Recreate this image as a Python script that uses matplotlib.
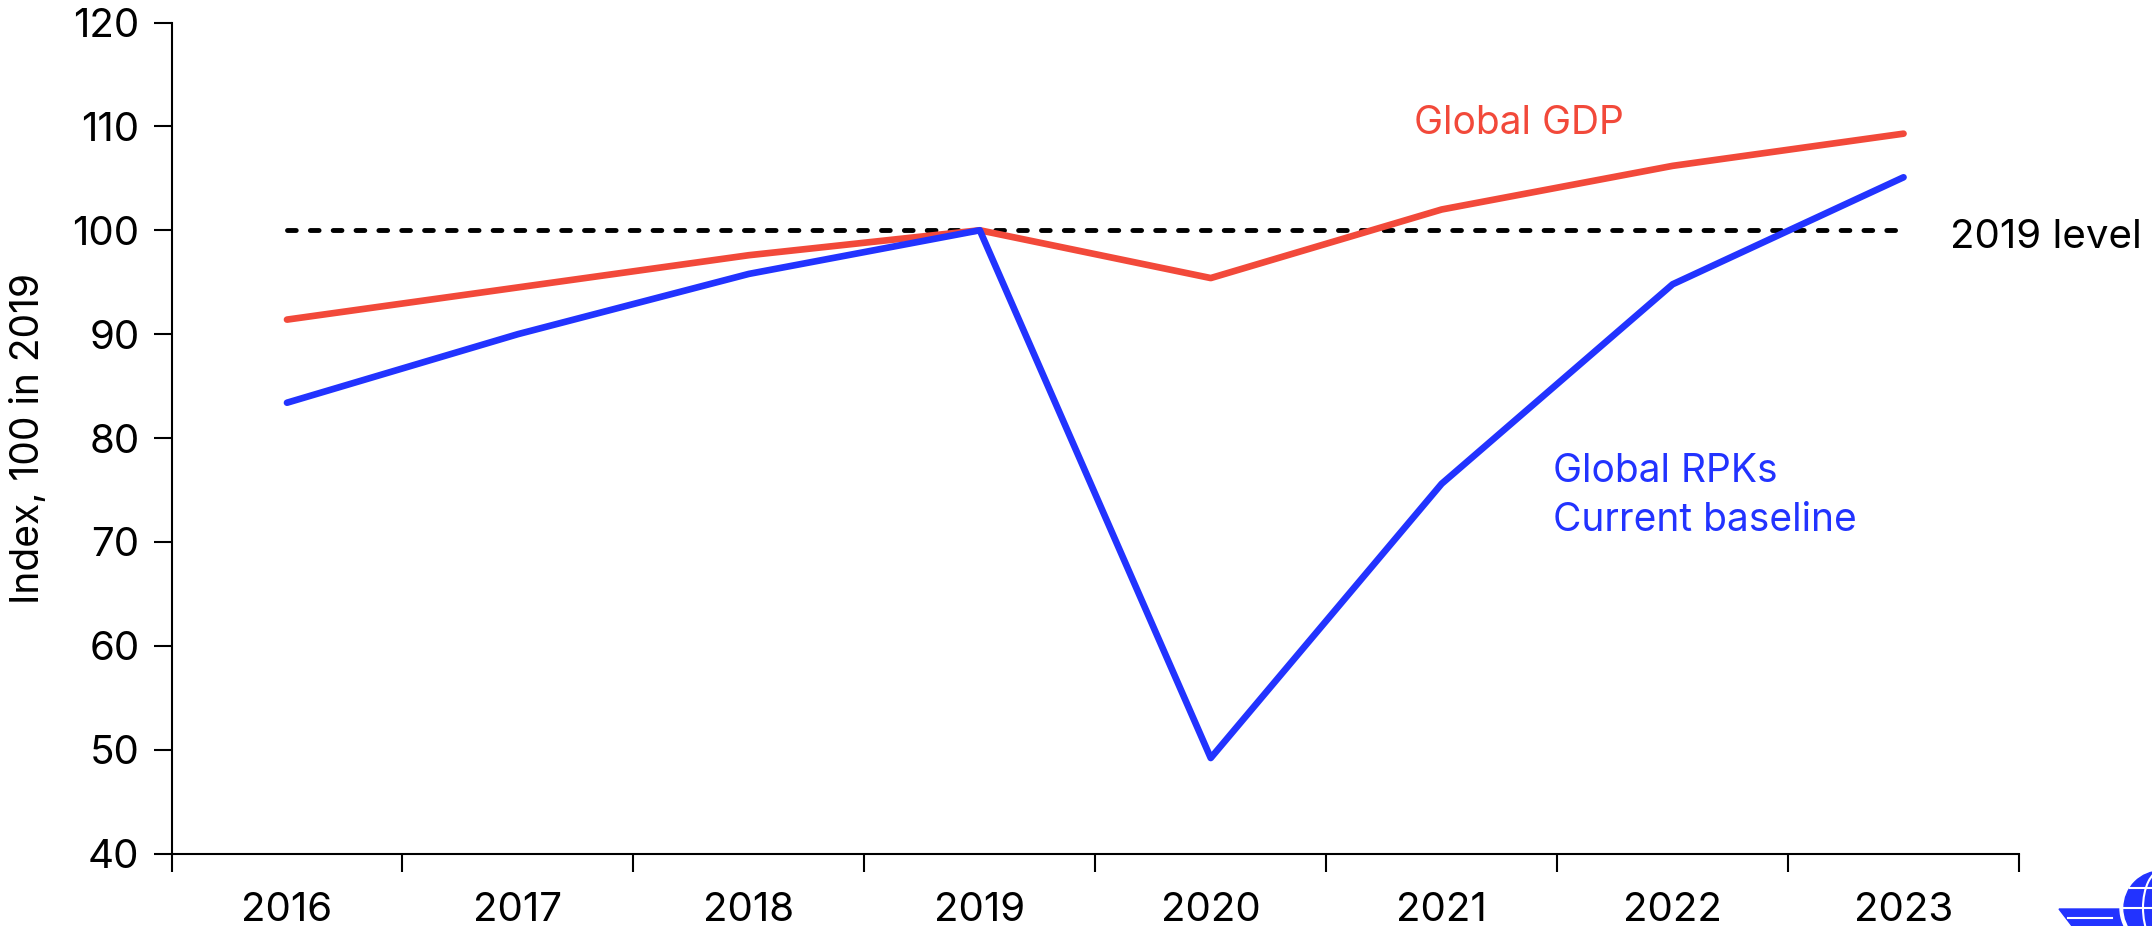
import matplotlib
matplotlib.use("Agg")
import matplotlib.pyplot as plt
from matplotlib.patches import Circle, Polygon, Ellipse
from matplotlib.transforms import IdentityTransform
from matplotlib.lines import Line2D

years = ["2016", "2017", "2018", "2019", "2020", "2021", "2022", "2023"]
gdp = [91.4, 94.5, 97.6, 100.0, 95.4, 102.0, 106.2, 109.3]
rpk = [83.4, 90.0, 95.8, 100.0, 49.2, 75.6, 94.8, 105.1]
level_2019 = [100.0] * len(years)

RED = "#F2493A"
BLUE = "#2233FF"

plt.rcParams['font.family'] = ['Inter', 'DejaVu Sans']

W, H = 2152, 926
fig = plt.figure(figsize=(W / 100, H / 100), dpi=100)
ax = fig.add_axes([0.0797, 0.0782, 0.8585, 0.8975])

x = list(range(len(years)))
ax.plot(x, level_2019, color="black", lw=3.5, ls=(0, (1.8, 2.9)),
        dash_capstyle="round", zorder=2)
ax.plot(x, gdp, color=RED, lw=4.8, solid_capstyle="round",
        solid_joinstyle="round", zorder=3)
ax.plot(x, rpk, color=BLUE, lw=4.8, solid_capstyle="round",
        solid_joinstyle="round", zorder=4)

ax.set_xlim(-0.5, len(years) - 0.5)
ax.set_ylim(40, 120)
ax.set_yticks(range(40, 121, 10))
ax.set_xticks([i - 0.5 for i in range(len(years) + 1)])
ax.set_xticklabels([])
ax.set_xticks(x, minor=True)
ax.set_xticklabels(years, minor=True)
ax.tick_params(axis="x", which="major", length=13, width=1.5, direction="out")
ax.tick_params(axis="x", which="minor", length=0, pad=28, labelsize=29)
ax.tick_params(axis="y", length=13, width=1.5, direction="out", labelsize=29, pad=10)

for s in ["top", "right"]:
    ax.spines[s].set_visible(False)
for s in ["left", "bottom"]:
    ax.spines[s].set_linewidth(1.5)

ax.set_ylabel("Index, 100 in 2019", fontsize=28, labelpad=18)

ax.text(4.88, 110.3, "Global GDP", color=RED, fontsize=28, ha="left", va="center")
ax.text(5.48, 76.8, "Global RPKs", color=BLUE, fontsize=28, ha="left", va="center")
ax.text(5.48, 72.1, "Current baseline", color=BLUE, fontsize=28, ha="left", va="center")
fig.text(1950 / W, 1 - 237 / H, "2019 level", color="black", fontsize=29,
         ha="left", va="center")

# logo hint at bottom right (pixel coordinates)
ident = IdentityTransform()
def py(y):
    return H - y

fig.patches.append(Polygon([(2059, py(909)), (2124, py(909)), (2132, py(926)),
                            (2072, py(926))], closed=True, transform=ident,
                           color=BLUE, zorder=5))
fig.lines.append(Line2D([2068, 2112], [py(917.5), py(917.5)], transform=ident,
                        color="white", lw=1.5, zorder=6))
fig.patches.append(Circle((2161, py(908)), 41, transform=ident, color="white", zorder=6))
fig.patches.append(Circle((2161, py(908)), 37, transform=ident, color=BLUE, zorder=7))
fig.patches.append(Ellipse((2161, py(908)), 36, 74, transform=ident, fill=False,
                           ec="white", lw=1.5, zorder=8))
fig.lines.append(Line2D([2124, 2152], [py(908), py(908)], transform=ident,
                        color="white", lw=1.5, zorder=8))
fig.lines.append(Line2D([2130, 2152], [py(888), py(888)], transform=ident,
                        color="white", lw=1.5, zorder=8))

fig.savefig("out.png", dpi=100)
